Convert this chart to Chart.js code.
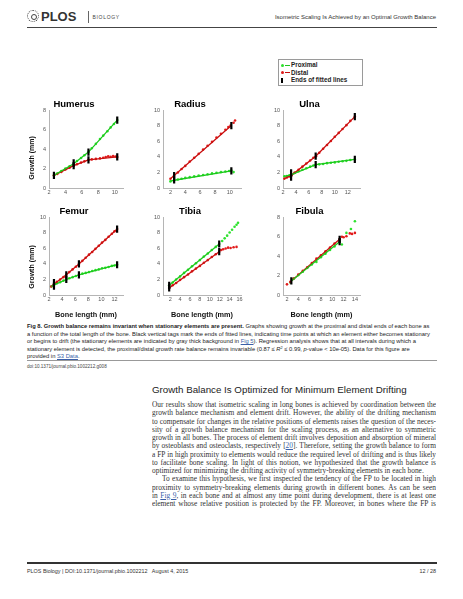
<!DOCTYPE html>
<html><head><meta charset="utf-8">
<script src="https://cdn.jsdelivr.net/npm/chart.js@4.4.1/dist/chart.umd.min.js"></script>
<style>
body{margin:0;width:463px;height:599px;background:#fff;position:relative;overflow:hidden;font-family:"Liberation Sans",Arial,sans-serif;color:#222}
.t{position:absolute;white-space:nowrap;line-height:10px;height:10px}
canvas{position:absolute}
.j{text-align:justify;text-align-last:justify;white-space:normal;overflow:hidden}
.body{font-family:"Liberation Serif","Times New Roman",serif;font-size:7.4px;color:#333;left:152px;width:284px}
.cap{font-size:5.8px;left:27px;color:#222}
.lk{color:#3a5fa8;text-decoration:underline}
.sup{font-size:3.8px;position:relative;top:-1.8px}
.ylab{position:absolute;font-weight:bold;font-size:7px;white-space:nowrap;transform:translate(-50%,-50%) rotate(-90deg);color:#111}
</style></head><body>

<!-- header -->
<div style="position:absolute;left:27px;top:10px;width:10px;height:10px;border:1.4px dotted #444;border-radius:50%"></div>
<div style="position:absolute;left:30.5px;top:13.5px;width:4px;height:4px;border:1.3px solid #444;border-radius:50%"></div>
<div class="t" style="left:41px;top:10px;font-size:13px;line-height:14px;height:14px;font-weight:bold;color:#333">PLOS</div>
<div style="position:absolute;left:88px;top:11px;width:0.8px;height:12px;background:#666"></div>
<div class="t" style="left:92.5px;top:12px;font-size:5px;letter-spacing:0.7px;color:#444">BIOLOGY</div>
<div class="t" style="right:27px;top:12px;font-size:6px;color:#333">Isometric Scaling Is Achieved by an Optimal Growth Balance</div>
<div style="position:absolute;left:27px;top:26.5px;width:410px;height:1.2px;background:#444"></div>

<!-- legend -->
<div style="position:absolute;left:278px;top:59px;width:85px;height:27px;border:0.8px solid #9a9a9a;box-sizing:border-box"></div>
<div style="position:absolute;left:280.5px;top:63.8px;width:3px;height:3px;border-radius:50%;background:#2ee02e"></div>
<div style="position:absolute;left:285px;top:64.6px;width:4.5px;height:1.4px;background:#1fc41f"></div>
<div class="t" style="left:291px;top:60.3px;font-size:6.3px;font-weight:bold">Proximal</div>
<div style="position:absolute;left:280.5px;top:71.3px;width:3px;height:3px;border-radius:50%;background:#e01b1b"></div>
<div style="position:absolute;left:285px;top:72.1px;width:4.5px;height:1.4px;background:#c40f0f"></div>
<div class="t" style="left:291px;top:67.8px;font-size:6.3px;font-weight:bold">Distal</div>
<div style="position:absolute;left:281.3px;top:78px;width:1.6px;height:5px;background:#000"></div>
<div class="t" style="left:291px;top:75.3px;font-size:6.3px;font-weight:bold">Ends of fitted lines</div>

<canvas id="cHumerus"></canvas>
<canvas id="cRadius"></canvas>
<canvas id="cUlna"></canvas>
<canvas id="cFemur"></canvas>
<canvas id="cTibia"></canvas>
<canvas id="cFibula"></canvas>

<div class="ylab" style="left:31px;top:158px">Growth (mm)</div>
<div class="ylab" style="left:31px;top:267px">Growth (mm)</div>

<!-- caption -->
<div class="t cap" style="top:321px"><b>Fig 8. Growth balance remains invariant when stationary elements are present.</b> Graphs showing growth at the proximal and distal ends of each bone as</div>
<div class="t cap" style="top:328.5px">a function of the total length of the bone. Black vertical tags mark the ends of fitted lines, indicating time points at which an element either becomes stationary</div>
<div class="t cap" style="top:336px">or begins to drift (the stationary elements are indicated by gray thick background in <span class="lk">Fig 5</span>). Regression analysis shows that at all intervals during which a</div>
<div class="t cap" style="top:343.5px">stationary element is detected, the proximal/distal growth rate balance remains invariable (0.87 ≤ <i>R</i><span class="sup">2</span> ≤ 0.99, <i>p</i>-value &lt; 10e-05). Data for this figure are</div>
<div class="t cap" style="top:351px">provided in <span class="lk">S3 Data</span>.</div>
<div style="position:absolute;left:27px;top:359.5px;width:410px;height:0.7px;background:#999"></div>
<div class="t" style="left:27px;top:362px;font-size:4.6px;color:#444">doi:10.1371/journal.pbio.1002212.g008</div>

<!-- section -->
<div class="t" style="left:152px;top:383.5px;font-size:9.75px;line-height:11px;height:11px;color:#222">Growth Balance Is Optimized for Minimum Element Drifting</div>
<div class="t body j" style="top:400px">Our results show that isometric scaling in long bones is achieved by coordination between the</div>
<div class="t body j" style="top:408.25px">growth balance mechanism and element drift. However, the ability of the drifting mechanism</div>
<div class="t body j" style="top:416.5px">to compensate for changes in the relative positions of elements raises the question of the neces-</div>
<div class="t body j" style="top:424.75px">sity of a growth balance mechanism for the scaling process, as an alternative to symmetric</div>
<div class="t body j" style="top:433px">growth in all bones. The process of element drift involves deposition and absorption of mineral</div>
<div class="t body j" style="top:441.25px">by osteoblasts and osteoclasts, respectively [<span class="lk">20</span>]. Therefore, setting the growth balance to form</div>
<div class="t body j" style="top:449.5px">a FP in high proximity to elements would reduce the required level of drifting and is thus likely</div>
<div class="t body j" style="top:457.75px">to facilitate bone scaling. In light of this notion, we hypothesized that the growth balance is</div>
<div class="t body" style="top:466px">optimized for minimizing the drifting activity of symmetry-breaking elements in each bone.</div>
<div class="t body j" style="top:474.25px;left:162px;width:274px">To examine this hypothesis, we first inspected the tendency of the FP to be located in high</div>
<div class="t body j" style="top:482.5px">proximity to symmetry-breaking elements during growth in different bones. As can be seen</div>
<div class="t body j" style="top:490.75px">in <span class="lk">Fig 9</span>, in each bone and at almost any time point during development, there is at least one</div>
<div class="t body j" style="top:499px">element whose relative position is protected by the FP. Moreover, in bones where the FP is</div>

<!-- footer -->
<div style="position:absolute;left:27px;top:562.3px;width:410px;height:1.3px;background:#333"></div>
<div class="t" style="left:27px;top:566px;font-size:5.4px;color:#333">PLOS Biology | DOI:10.1371/journal.pbio.1002212&nbsp;&nbsp;&nbsp;August 4, 2015</div>
<div class="t" style="right:27px;top:566px;font-size:5.4px;color:#333">12 / 28</div>

<script>
// ---------- DATA ----------
// Humerus
const humerusProxX = [2.6, 3.0, 3.5, 4.0, 4.5, 5.0, 5.4, 5.9, 6.3, 6.8, 7.2, 7.7, 8.2, 8.6, 9.1, 9.5, 9.9, 10.3];
const humerusProxY = [1.3, 1.5, 1.75, 2.0, 2.25, 2.5, 2.78, 3.1, 3.38, 3.72, 4.1, 4.55, 5.05, 5.4, 5.85, 6.25, 6.6, 7.0];
const humerusDistX = [2.6, 3.0, 3.5, 4.0, 4.5, 5.0, 5.4, 5.9, 6.3, 6.8, 7.2, 7.7, 8.2, 8.6, 8.9, 9.2, 9.5, 9.8, 10.1, 10.3];
const humerusDistY = [1.28, 1.45, 1.65, 1.9, 2.1, 2.3, 2.45, 2.62, 2.75, 2.9, 2.95, 3.0, 3.05, 3.12, 3.2, 3.28, 3.22, 3.3, 3.25, 3.2];
const humerusProxFitX = [2.6, 5.0, 6.8, 10.3];
const humerusProxFitY = [1.3, 2.5, 3.7, 7.0];
const humerusDistFitX = [2.6, 5.0, 6.8, 10.3];
const humerusDistFitY = [1.3, 2.3, 2.9, 3.2];
const humerusTagX = [2.6, 5.0, 5.0, 6.8, 6.8, 10.3, 10.3];
const humerusTagY = [1.3, 2.3, 2.6, 3.7, 2.9, 7.0, 3.2];

// Radius
const radiusProxX = [2.0, 2.5, 3.0, 3.5, 4.0, 4.6, 5.2, 5.8, 6.4, 7.0, 7.6, 8.2, 8.8, 9.4, 9.9, 10.2, 10.5];
const radiusProxY = [0.85, 1.0, 1.1, 1.2, 1.3, 1.4, 1.5, 1.6, 1.68, 1.78, 1.88, 1.95, 2.05, 2.12, 2.2, 2.25, 2.05];
const radiusDistX = [2.0, 2.5, 3.0, 3.5, 4.0, 4.6, 5.2, 5.8, 6.4, 7.0, 7.6, 8.2, 8.8, 9.4, 9.8, 10.1, 10.5, 10.7];
const radiusDistY = [1.2, 1.6, 2.0, 2.45, 2.85, 3.4, 3.9, 4.4, 4.95, 5.45, 5.95, 6.5, 7.0, 7.5, 7.85, 8.05, 8.4, 8.7];
const radiusProxFitX = [2.0, 2.5, 10.2];
const radiusProxFitY = [0.9, 1.0, 2.2];
const radiusDistFitX = [2.0, 2.5, 10.2];
const radiusDistFitY = [1.2, 1.6, 8.05];
const radiusTagX = [2.5, 2.5, 10.2, 10.2];
const radiusTagY = [1.05, 1.6, 2.2, 8.05];

// Ulna
const ulnaProxX = [2.2, 2.6, 3.0, 3.3, 3.8, 4.4, 5.0, 5.6, 6.2, 6.7, 7.1, 7.6, 8.2, 8.8, 9.4, 10.0, 10.6, 11.2, 11.8, 12.4, 13.1];
const ulnaProxY = [1.5, 1.55, 1.65, 1.72, 1.95, 2.15, 2.35, 2.55, 2.75, 2.9, 3.0, 3.05, 3.1, 3.2, 3.25, 3.3, 3.38, 3.45, 3.5, 3.6, 3.7];
const ulnaDistX = [2.2, 2.6, 3.0, 3.3, 3.8, 4.4, 5.0, 5.6, 6.2, 6.7, 7.1, 7.6, 8.2, 8.8, 9.4, 10.0, 10.6, 11.2, 11.8, 12.4, 13.1];
const ulnaDistY = [1.2, 1.35, 1.5, 1.62, 1.95, 2.35, 2.75, 3.15, 3.55, 3.9, 4.1, 4.55, 5.05, 5.55, 6.05, 6.6, 7.1, 7.6, 8.1, 8.65, 9.2];
const ulnaProxFitX = [2.2, 3.25, 7.05, 13.1];
const ulnaProxFitY = [1.5, 1.7, 3.0, 3.7];
const ulnaDistFitX = [2.2, 3.25, 7.05, 13.1];
const ulnaDistFitY = [1.2, 1.6, 4.1, 9.2];
const ulnaTagX = [3.25, 3.25, 7.05, 7.05, 13.1, 13.1];
const ulnaTagY = [1.4, 1.95, 3.0, 4.1, 3.7, 9.2];

// Femur
const femurProxX = [2.35, 2.76, 3.2, 3.7, 4.2, 4.64, 5.1, 5.6, 6.1, 6.57, 7.1, 7.6, 8.1, 8.6, 9.1, 9.6, 10.1, 10.6, 11.1, 11.6, 12.0, 12.4];
const femurProxY = [1.1, 1.3, 1.5, 1.65, 1.85, 2.0, 2.15, 2.3, 2.45, 2.6, 2.75, 2.85, 2.95, 3.1, 3.2, 3.3, 3.45, 3.5, 3.6, 3.75, 3.8, 3.9];
const femurDistX = [2.35, 2.76, 3.2, 3.7, 4.2, 4.64, 5.1, 5.6, 6.1, 6.57, 7.1, 7.6, 8.1, 8.6, 9.1, 9.6, 10.1, 10.6, 11.1, 11.6, 12.0, 12.4];
const femurDistY = [1.1, 1.4, 1.7, 2.0, 2.3, 2.6, 2.95, 3.3, 3.65, 4.0, 4.4, 4.8, 5.2, 5.55, 5.95, 6.35, 6.75, 7.1, 7.5, 7.9, 8.2, 8.5];
const femurProxFitX = [2.35, 2.76, 4.64, 6.57, 12.4];
const femurProxFitY = [1.1, 1.3, 2.0, 2.6, 3.9];
const femurDistFitX = [2.35, 2.76, 4.64, 6.57, 12.4];
const femurDistFitY = [1.1, 1.4, 2.6, 4.0, 8.5];
const femurTagX = [2.76, 2.76, 4.64, 4.64, 6.57, 6.57, 12.4, 12.4];
const femurTagY = [1.15, 1.6, 2.0, 2.6, 2.6, 4.0, 3.9, 8.5];

// Tibia
const tibiaProxX = [1.8, 2.5, 3.2, 4.0, 4.8, 5.6, 6.4, 7.2, 8.0, 8.8, 9.6, 10.4, 11.2, 11.9, 12.5, 13.0, 13.5, 14.0, 14.5, 15.0, 15.4, 15.7];
const tibiaProxY = [1.25, 1.6, 2.0, 2.4, 2.85, 3.25, 3.7, 4.1, 4.5, 4.95, 5.35, 5.8, 6.2, 6.57, 6.95, 7.3, 7.65, 8.05, 8.4, 8.8, 9.05, 9.3];
const tibiaDistX = [1.8, 2.5, 3.2, 4.0, 4.8, 5.6, 6.4, 7.2, 8.0, 8.8, 9.6, 10.4, 11.2, 11.9, 12.3, 12.7, 13.2, 13.7, 14.2, 14.8, 15.4];
const tibiaDistY = [0.9, 1.25, 1.55, 1.95, 2.3, 2.65, 3.05, 3.4, 3.75, 4.15, 4.5, 4.9, 5.25, 5.58, 5.8, 5.9, 6.0, 6.1, 6.05, 6.15, 6.2];
const tibiaProxFitX = [1.8, 11.9];
const tibiaProxFitY = [1.25, 6.57];
const tibiaDistFitX = [1.8, 11.9];
const tibiaDistFitY = [0.9, 5.58];
const tibiaTagX = [1.8, 1.8, 11.9, 11.9];
const tibiaTagY = [1.25, 0.9, 6.57, 5.58];

// Fibula
const fibulaProxX = [2.6, 3.2, 4.0, 4.8, 5.6, 6.4, 7.2, 8.0, 8.8, 9.6, 10.4, 11.3, 11.7, 12.5, 13.3, 14.0];
const fibulaProxY = [1.3, 1.7, 2.05, 2.4, 2.8, 3.15, 3.4, 3.9, 4.25, 4.65, 5.0, 5.45, 5.2, 6.4, 6.8, 7.6];
const fibulaDistX = [2.0, 2.6, 3.2, 4.0, 4.8, 5.6, 6.4, 7.2, 8.0, 8.8, 9.6, 10.4, 11.3, 11.7, 12.0, 12.5, 13.1, 13.5, 14.0];
const fibulaDistY = [1.1, 1.35, 1.7, 2.1, 2.5, 2.85, 3.3, 3.75, 4.1, 4.5, 4.9, 5.3, 5.75, 6.0, 5.95, 6.05, 6.35, 6.3, 6.4];
const fibulaProxFitX = [2.77, 11.3];
const fibulaProxFitY = [1.45, 5.5];
const fibulaDistFitX = [2.77, 11.3];
const fibulaDistFitY = [1.45, 5.75];
const fibulaTagX = [2.77, 11.3, 11.3];
const fibulaTagY = [1.45, 5.5, 5.75];

// tick labels
const ticksY8 = [0, 2, 4, 6, 8];
const ticksY10 = [0, 2, 4, 6, 8, 10];
const humerusTicksX = [2, 4, 6, 8, 10];
const radiusTicksX = [2, 4, 6, 8, 10];
const ulnaTicksX = [2, 4, 6, 8, 10, 12];
const femurTicksX = [2, 4, 6, 8, 10, 12];
const tibiaTicksX = [2, 4, 6, 8, 10, 12, 14, 16];
const fibulaTicksX = [2, 4, 6, 8, 10, 12, 14];

const boneNames = ['Humerus', 'Radius', 'Ulna', 'Femur', 'Tibia', 'Fibula'];
const xAxisTitle = 'Bone length (mm)';

// ---------- DRAWING ----------
const GREEN = '#2fe22f', GREEN_LINE = '#1cc81c', RED = '#e21c1c', RED_LINE = '#c80f0f';
const pts = (xs, ys) => xs.map((x, i) => ({x: x, y: ys[i]}));
const YW = 24, RP = 24, TT = 13;

function makeChart(id, name, area, d, xr, xTicks, yMax, yTicks, bottomRow) {
  const xH = bottomRow ? 24 : 10;
  const cv = document.getElementById(id);
  const w = Math.round(YW + (area.r - area.l) + RP);
  const h = Math.round(TT + (area.b - area.t) + xH);
  cv.width = w; cv.height = h;
  cv.style.left = (area.l - YW) + 'px';
  cv.style.top = (area.t - TT) + 'px';
  new Chart(cv, {
    type: 'scatter',
    data: {datasets: [
      {data: pts(d.tagX, d.tagY), pointStyle: 'line', rotation: 90, pointRadius: 3.6, pointBorderWidth: 2.2, pointBorderColor: '#000', pointBackgroundColor: '#000', showLine: false},
      {data: pts(d.proxFitX, d.proxFitY), showLine: true, borderColor: GREEN_LINE, borderWidth: 1.3, pointRadius: 0},
      {data: pts(d.distFitX, d.distFitY), showLine: true, borderColor: RED_LINE, borderWidth: 1.3, pointRadius: 0},
      {data: pts(d.distX, d.distY), pointRadius: 1.3, pointBackgroundColor: RED, pointBorderWidth: 0, showLine: false},
      {data: pts(d.proxX, d.proxY), pointRadius: 1.3, pointBackgroundColor: GREEN, pointBorderWidth: 0, showLine: false}
    ]},
    options: {
      responsive: false, animation: false, events: [],
      layout: {padding: {left: 0, right: RP, top: 0, bottom: 0}},
      plugins: {
        legend: {display: false}, tooltip: {enabled: false},
        title: {display: true, text: name, color: '#000', font: {family: 'Liberation Sans', size: 9.5, weight: 'bold', lineHeight: 1.2}, padding: {top: 2, bottom: 0}}
      },
      scales: {
        x: {
          type: 'linear', min: xr[0], max: xr[1],
          afterBuildTicks: a => { a.ticks = xTicks.map(v => ({value: v})); },
          afterFit: s => { s.height = xH; },
          grid: {display: false, drawTicks: false},
          border: {display: true, color: '#b5b5b5', width: 1},
          ticks: {font: {family: 'Liberation Sans', size: 5.5}, color: '#555', padding: 1.5, maxRotation: 0, autoSkip: false},
          title: {display: bottomRow, text: xAxisTitle, color: '#111', font: {family: 'Liberation Sans', size: 7.3, weight: 'bold', lineHeight: 1.2}, padding: {top: 0, bottom: 0}}
        },
        y: {
          type: 'linear', min: 0, max: yMax,
          afterBuildTicks: a => { a.ticks = yTicks.map(v => ({value: v})); },
          afterFit: s => { s.width = YW; },
          grid: {display: false, drawTicks: false},
          border: {display: true, color: '#b5b5b5', width: 1},
          ticks: {font: {family: 'Liberation Sans', size: 5.5}, color: '#555', padding: 3}
        }
      }
    }
  });
}

const bones = {
  humerus: {proxX: humerusProxX, proxY: humerusProxY, distX: humerusDistX, distY: humerusDistY, proxFitX: humerusProxFitX, proxFitY: humerusProxFitY, distFitX: humerusDistFitX, distFitY: humerusDistFitY, tagX: humerusTagX, tagY: humerusTagY},
  radius: {proxX: radiusProxX, proxY: radiusProxY, distX: radiusDistX, distY: radiusDistY, proxFitX: radiusProxFitX, proxFitY: radiusProxFitY, distFitX: radiusDistFitX, distFitY: radiusDistFitY, tagX: radiusTagX, tagY: radiusTagY},
  ulna: {proxX: ulnaProxX, proxY: ulnaProxY, distX: ulnaDistX, distY: ulnaDistY, proxFitX: ulnaProxFitX, proxFitY: ulnaProxFitY, distFitX: ulnaDistFitX, distFitY: ulnaDistFitY, tagX: ulnaTagX, tagY: ulnaTagY},
  femur: {proxX: femurProxX, proxY: femurProxY, distX: femurDistX, distY: femurDistY, proxFitX: femurProxFitX, proxFitY: femurProxFitY, distFitX: femurDistFitX, distFitY: femurDistFitY, tagX: femurTagX, tagY: femurTagY},
  tibia: {proxX: tibiaProxX, proxY: tibiaProxY, distX: tibiaDistX, distY: tibiaDistY, proxFitX: tibiaProxFitX, proxFitY: tibiaProxFitY, distFitX: tibiaDistFitX, distFitY: tibiaDistFitY, tagX: tibiaTagX, tagY: tibiaTagY},
  fibula: {proxX: fibulaProxX, proxY: fibulaProxY, distX: fibulaDistX, distY: fibulaDistY, proxFitX: fibulaProxFitX, proxFitY: fibulaProxFitY, distFitX: fibulaDistFitX, distFitY: fibulaDistFitY, tagX: fibulaTagX, tagY: fibulaTagY}
};

makeChart('cHumerus', boneNames[0], {l: 49, r: 122.5, t: 110, b: 188}, bones.humerus, [2, 11], humerusTicksX, 8, ticksY8, false);
makeChart('cRadius', boneNames[1], {l: 163.3, r: 241.7, t: 110, b: 187.7}, bones.radius, [1, 11.5], radiusTicksX, 10, ticksY10, false);
makeChart('cUlna', boneNames[2], {l: 282.7, r: 359.3, t: 110, b: 187.7}, bones.ulna, [2, 13.9], ulnaTicksX, 10, ticksY10, false);
makeChart('cFemur', boneNames[3], {l: 49, r: 123.3, t: 216.7, b: 295}, bones.femur, [2, 13.3], femurTicksX, 10, ticksY10, true);
makeChart('cTibia', boneNames[4], {l: 163.3, r: 241.7, t: 217.3, b: 295}, bones.tibia, [0.55, 16.3], tibiaTicksX, 10, ticksY10, true);
makeChart('cFibula', boneNames[5], {l: 282.7, r: 359.3, t: 217.3, b: 295}, bones.fibula, [1.3, 14.9], fibulaTicksX, 8, ticksY8, true);
</script>
</body></html>
